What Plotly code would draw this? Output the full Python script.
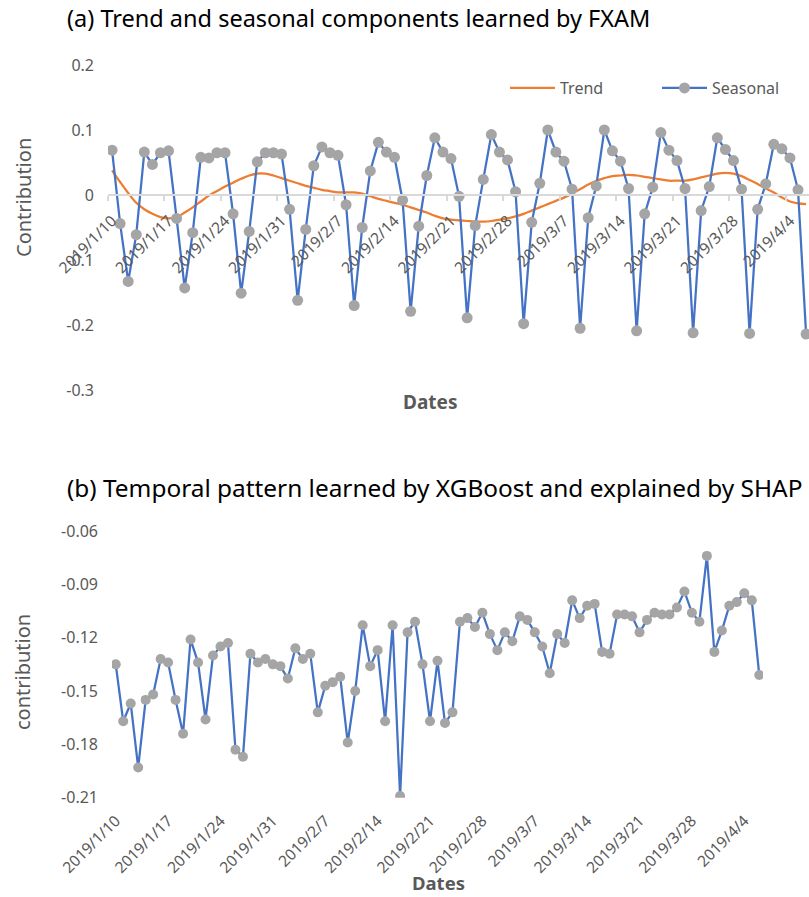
import pandas as pd
import plotly.graph_objects as go

# ---------------- data ----------------
dates = pd.date_range("2019-01-10", periods=87, freq="D")
date_labels = [f"{d.year}/{d.month}/{d.day}" for d in dates]

trend = [0.038, 0.020, 0.003, -0.012, -0.022, -0.029, -0.034, -0.036, -0.034, -0.027,
         -0.019, -0.010, -0.001, 0.006, 0.013, 0.019, 0.025, 0.030, 0.033, 0.033,
         0.030, 0.026, 0.022, 0.018, 0.014, 0.011, 0.008, 0.006, 0.004, 0.004,
         0.004, 0.002, -0.002, -0.006, -0.009, -0.012, -0.015, -0.019, -0.023, -0.027,
         -0.032, -0.036, -0.038, -0.039, -0.040, -0.041, -0.041, -0.040, -0.038, -0.036,
         -0.033, -0.029, -0.024, -0.019, -0.014, -0.009, -0.004, 0.002, 0.009, 0.016,
         0.022, 0.026, 0.029, 0.030, 0.031, 0.030, 0.028, 0.026, 0.024, 0.022,
         0.022, 0.022, 0.024, 0.027, 0.030, 0.033, 0.034, 0.033, 0.029, 0.023,
         0.017, 0.010, 0.004, -0.004, -0.010, -0.013, -0.014]

seasonal = [0.069, -0.044, -0.133, -0.061, 0.066, 0.047, 0.065, 0.068, -0.036, -0.143,
            -0.058, 0.058, 0.057, 0.065, 0.065, -0.029, -0.151, -0.056, 0.051, 0.065,
            0.065, 0.063, -0.022, -0.162, -0.053, 0.045, 0.074, 0.065, 0.061, -0.015,
            -0.170, -0.050, 0.037, 0.081, 0.066, 0.058, -0.008, -0.179, -0.048, 0.030,
            0.088, 0.066, 0.056, -0.002, -0.189, -0.047, 0.024, 0.093, 0.066, 0.054,
            0.005, -0.198, -0.042, 0.018, 0.100, 0.066, 0.052, 0.009, -0.205, -0.035,
            0.014, 0.100, 0.068, 0.052, 0.010, -0.209, -0.029, 0.012, 0.096, 0.069,
            0.053, 0.010, -0.212, -0.024, 0.013, 0.088, 0.070, 0.053, 0.009, -0.213,
            -0.022, 0.017, 0.078, 0.071, 0.057, 0.008, -0.214]

xgb_shap = [-0.135, -0.167, -0.157, -0.193, -0.155, -0.152, -0.132, -0.134, -0.155, -0.174,
            -0.121, -0.134, -0.166, -0.130, -0.125, -0.123, -0.183, -0.187, -0.129, -0.134,
            -0.132, -0.135, -0.136, -0.143, -0.126, -0.132, -0.129, -0.162, -0.147, -0.145,
            -0.142, -0.179, -0.150, -0.113, -0.136, -0.127, -0.167, -0.113, -0.209, -0.117,
            -0.111, -0.135, -0.167, -0.133, -0.168, -0.162, -0.111, -0.109, -0.114, -0.106,
            -0.118, -0.127, -0.117, -0.122, -0.108, -0.110, -0.117, -0.125, -0.140, -0.118,
            -0.123, -0.099, -0.109, -0.102, -0.101, -0.128, -0.129, -0.107, -0.107, -0.108,
            -0.117, -0.110, -0.106, -0.107, -0.107, -0.103, -0.094, -0.106, -0.111, -0.074,
            -0.128, -0.116, -0.102, -0.100, -0.095, -0.099, -0.141]

top_yticks = [0.2, 0.1, 0, -0.1, -0.2, -0.3]
top_ytext = ["0.2", "0.1", "0", "-0.1", "-0.2", "-0.3"]
bot_yticks = [-0.06, -0.09, -0.12, -0.15, -0.18, -0.21]
bot_ytext = ["-0.06", "-0.09", "-0.12", "-0.15", "-0.18", "-0.21"]

tick_dates = list(dates[::7])
tick_text = date_labels[::7]

# ---------------- layout helpers ----------------
W, H = 809, 897
FONT = "Noto Sans"
GREY = "#595959"
half = pd.Timedelta(hours=12)


def px(p):
    return p / W


def py(p):
    return 1 - p / H


fig = go.Figure()

fig.add_trace(go.Scatter(
    x=dates, y=trend, name="Trend", mode="lines",
    line=dict(color="#ed7d31", width=2.25, shape="spline"),
    xaxis="x", yaxis="y"))
fig.add_trace(go.Scatter(
    x=dates, y=seasonal, name="Seasonal", mode="lines+markers",
    line=dict(color="#4472c4", width=2.25),
    marker=dict(color="#a5a5a5", size=11, line=dict(width=0)),
    xaxis="x", yaxis="y"))
fig.add_trace(go.Scatter(
    x=dates, y=xgb_shap, name="XGBoost SHAP", mode="lines+markers", showlegend=False,
    line=dict(color="#4472c4", width=2.25),
    marker=dict(color="#a5a5a5", size=10, line=dict(width=0)),
    xaxis="x2", yaxis="y2"))

xtickfont = dict(family=FONT, size=15.5, color=GREY)
ytickfont = dict(family=FONT, size=16, color=GREY)

fig.update_layout(
    width=W, height=H,
    margin=dict(l=0, r=0, t=0, b=0, autoexpand=False),
    paper_bgcolor="white", plot_bgcolor="white",
    font=dict(family=FONT, color=GREY),
    xaxis=dict(
        domain=[px(108), 1], anchor="free", position=py(195),
        type="date", automargin=False,
        range=[dates[0] - half, dates[0] + pd.Timedelta(days=86.36)],
        showline=True, linecolor="#d9d9d9", linewidth=1.5,
        showgrid=False, zeroline=False,
        tickmode="array", tickvals=tick_dates, ticktext=tick_text,
        ticks="", tickangle=-45, tickfont=xtickfont, ticklabelstandoff=10,
        minor=dict(tickmode="array", tickvals=[d - half for d in tick_dates],
                   ticks="outside", ticklen=5, tickcolor="#d9d9d9", tickwidth=1.5),
    ),
    yaxis=dict(
        domain=[py(390), py(65)], anchor="x", automargin=False,
        range=[-0.3, 0.2],
        tickmode="array", tickvals=top_yticks, ticktext=top_ytext,
        showgrid=False, zeroline=False, showline=False, ticks="",
        tickfont=ytickfont, ticklabelstandoff=13,
    ),
    xaxis2=dict(
        domain=[px(112), px(763)], anchor="y2", automargin=False,
        type="date",
        range=[dates[0] - half, dates[-1] + half],
        showline=False, showgrid=False, zeroline=False,
        tickmode="array", tickvals=tick_dates, ticktext=tick_text,
        ticks="", tickangle=-45, tickfont=xtickfont, ticklabelstandoff=10,
    ),
    yaxis2=dict(
        domain=[py(797.7), py(531)], anchor="x2", automargin=False,
        range=[-0.21, -0.06],
        tickmode="array", tickvals=bot_yticks, ticktext=bot_ytext,
        showgrid=False, zeroline=False, showline=False, ticks="",
        tickfont=ytickfont, ticklabelstandoff=13,
    ),
    legend=dict(
        orientation="h", x=px(505), y=py(88), xanchor="left", yanchor="middle",
        font=dict(family=FONT, size=16, color=GREY),
        bgcolor="rgba(0,0,0,0)", itemwidth=45, entrywidth=92,
    ),
    showlegend=True,
)

annos = [
    dict(text="(a) Trend and seasonal components learned by FXAM",
         x=px(65), y=py(18), xanchor="left", yanchor="middle",
         font=dict(family=FONT, size=23.5, color="black")),
    dict(text="(b) Temporal pattern learned by XGBoost and explained by SHAP",
         x=px(65), y=py(487), xanchor="left", yanchor="middle",
         font=dict(family=FONT, size=24.4, color="black")),
    dict(text="Contribution", x=px(24), y=py(198), xanchor="center", yanchor="middle",
         textangle=-90, font=dict(family=FONT, size=20, color=GREY)),
    dict(text="contribution", x=px(22), y=py(672), xanchor="center", yanchor="middle",
         textangle=-90, font=dict(family=FONT, size=20, color=GREY)),
    dict(text="<b>Dates</b>", x=px(430), y=py(402), xanchor="center", yanchor="middle",
         font=dict(family=FONT, size=19, color=GREY)),
    dict(text="<b>Dates</b>", x=px(438), y=py(896), xanchor="center", yanchor="bottom",
         font=dict(family=FONT, size=18.5, color=GREY), borderpad=0),
]
for a in annos:
    a.update(xref="paper", yref="paper", showarrow=False)
fig.update_layout(annotations=annos)

fig.write_html("out.html")
